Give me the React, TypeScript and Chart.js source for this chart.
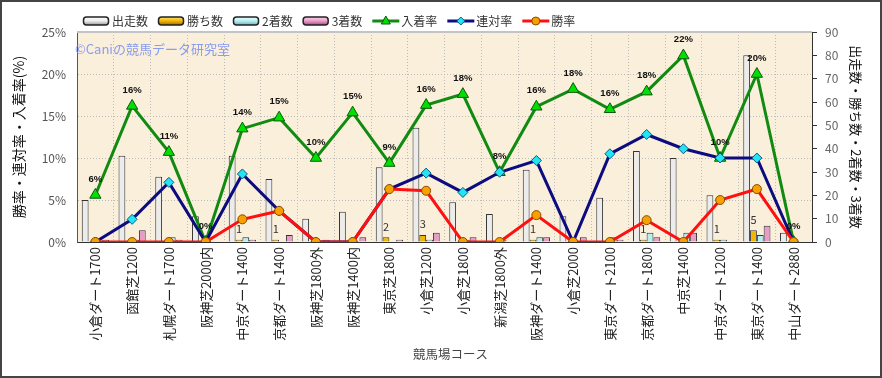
import React, { useEffect, useRef } from 'react';
import { Chart, registerables } from 'chart.js';

Chart.register(...registerables);

const FONT = '"Noto Sans CJK JP", "Noto Sans", sans-serif';

const categories = [
  '小倉ダート1700', '函館芝1200', '札幌ダート1700', '阪神芝2000内', '中京ダート1400',
  '京都ダート1400', '阪神芝1800外', '阪神芝1400内', '東京芝1800', '小倉芝1200',
  '小倉芝1800', '新潟芝1800外', '阪神ダート1400', '小倉芝2000', '東京ダート2100',
  '京都ダート1800', '中京芝1400', '中京ダート1200', '東京ダート1400', '中山ダート2880',
];

// counts (right axis)
const starts = [18, 37, 28, 11, 37, 27, 10, 13, 32, 49, 17, 12, 31, 11, 19, 39, 36, 20, 80, 4];
const wins = [0, 0, 0, 0, 1, 1, 0, 0, 2, 3, 0, 0, 1, 0, 0, 1, 0, 1, 5, 0];
const seconds = [0, 1, 2, 0, 2, 0, 0, 0, 0, 1, 1, 1, 2, 0, 2, 4, 4, 1, 3, 0];
const thirds = [1, 5, 1, 0, 1, 3, 1, 2, 1, 4, 2, 0, 2, 2, 1, 2, 4, 0, 7, 0];

// rates (left axis, %)
const placeRate = [5.6, 16.2, 10.7, 0, 13.5, 14.8, 10, 15.4, 9.4, 16.3, 17.6, 8.3, 16.1, 18.2, 15.8, 17.9, 22.2, 10, 20, 0];
const quinellaRate = [0, 2.7, 7.1, 0, 8.1, 3.7, 0, 0, 6.3, 8.2, 5.9, 8.3, 9.7, 0, 10.5, 12.8, 11.1, 10, 10, 0];
const winRate = [0, 0, 0, 0, 2.7, 3.7, 0, 0, 6.3, 6.1, 0, 0, 3.2, 0, 0, 2.6, 0, 5, 6.3, 0];

const leftTitle = '勝率・連対率・入着率(%)';
const rightTitle = '出走数・勝ち数・2着数・3着数';
const xTitle = '競馬場コース';
const watermark = '©Caniの競馬データ研究室';

const decorPlugin = {
  id: 'decor',
  beforeDraw(chart: any) {
    const { ctx, chartArea: a, width, height } = chart;
    ctx.save();
    ctx.fillStyle = '#ffffff';
    ctx.fillRect(0, 0, width, height);
    ctx.fillStyle = '#f9efda';
    ctx.fillRect(a.left, a.top, a.right - a.left, a.bottom - a.top);
    ctx.restore();
  },
  beforeDatasetsDraw(chart: any) {
    const { ctx, chartArea: a } = chart;
    ctx.save();
    ctx.font = `13px ${FONT}`;
    ctx.fillStyle = '#8a9cf0';
    ctx.textAlign = 'left';
    ctx.textBaseline = 'middle';
    ctx.fillText(watermark, a.left - 2, a.top + 17);
    ctx.strokeStyle = '#c4c4c4';
    ctx.lineWidth = 2;
    ctx.beginPath();
    ctx.moveTo(a.left, a.top);
    ctx.lineTo(a.right, a.top);
    ctx.stroke();
    ctx.restore();
  },
  afterDraw(chart: any) {
    const { ctx, width, height, chartArea: a } = chart;
    ctx.save();
    const placeMeta = chart.getDatasetMeta(4);
    ctx.font = `bold 9.5px "Liberation Sans", Arial, sans-serif`;
    ctx.fillStyle = '#111';
    ctx.textAlign = 'center';
    ctx.textBaseline = 'middle';
    placeMeta.data.forEach((pt: any, i: number) => {
      ctx.fillText(Math.round(placeRate[i]) + '%', pt.x, pt.y - 16);
    });
    const winMeta = chart.getDatasetMeta(1);
    ctx.font = `11px ${FONT}`;
    ctx.fillStyle = '#333';
    winMeta.data.forEach((bar: any, i: number) => {
      if (wins[i] > 0) ctx.fillText(String(wins[i]), bar.x, bar.y - 11);
    });
    ctx.font = `12.5px ${FONT}`;
    ctx.fillStyle = '#444';
    ctx.fillText(xTitle, (a.left + a.right) / 2 + 6, 354);

    let x = 83;
    const ly = 21;
    ctx.font = `12px ${FONT}`;
    ctx.textAlign = 'left';
    ctx.textBaseline = 'middle';
    chart.data.datasets.forEach((ds: any) => {
      if (ds.type === 'bar') {
        const g = ctx.createLinearGradient(0, ly - 4, 0, ly + 4);
        g.addColorStop(0, ds.legendLight);
        g.addColorStop(0.5, ds.backgroundColor);
        g.addColorStop(1, ds.legendDark);
        ctx.fillStyle = g;
        ctx.strokeStyle = '#222';
        ctx.lineWidth = 1.5;
        ctx.beginPath();
        (ctx as any).roundRect(x + 0.5, ly - 4, 25, 8, 3);
        ctx.fill();
        ctx.stroke();
        x += 29;
      } else {
        ctx.strokeStyle = ds.borderColor;
        ctx.lineWidth = 3;
        ctx.beginPath();
        ctx.moveTo(x, ly);
        ctx.lineTo(x + 27, ly);
        ctx.stroke();
        ctx.fillStyle = ds.pointBackgroundColor;
        ctx.strokeStyle = ds.pointBorderColor;
        ctx.lineWidth = 1;
        ctx.beginPath();
        const cx = x + 13.5;
        if (ds.pointStyle === 'triangle') {
          ctx.moveTo(cx, ly - 5);
          ctx.lineTo(cx + 4.5, ly + 3);
          ctx.lineTo(cx - 4.5, ly + 3);
          ctx.closePath();
        } else if (ds.pointStyle === 'rectRot') {
          ctx.moveTo(cx, ly - 4);
          ctx.lineTo(cx + 4, ly);
          ctx.lineTo(cx, ly + 4);
          ctx.lineTo(cx - 4, ly);
          ctx.closePath();
        } else {
          ctx.arc(cx, ly, 4, 0, Math.PI * 2);
        }
        ctx.fill();
        ctx.stroke();
        x += 29;
      }
      ctx.fillStyle = '#333';
      ctx.fillText(ds.label, x, ly + 0.5);
      x += ctx.measureText(ds.label).width + 10;
    });

    ctx.strokeStyle = '#444';
    ctx.lineWidth = 2;
    ctx.strokeRect(1, 1, width - 2, height - 2);
    ctx.restore();
  },
};

export default function App() {
  const ref = useRef<HTMLCanvasElement | null>(null);

  useEffect(() => {
    if (!ref.current) return;
    const barBase = {
      type: 'bar',
      yAxisID: 'y1',
      borderColor: '#333',
      borderWidth: 1,
      categoryPercentage: 0.74,
      barPercentage: 1,
      order: 3,
    };
    const chart = new Chart(ref.current, {
      type: 'bar',
      data: {
        labels: categories,
        datasets: [
          { ...barBase, label: '出走数', data: starts, backgroundColor: '#ececec', legendLight: '#ffffff', legendDark: '#999999' },
          { ...barBase, label: '勝ち数', data: wins, backgroundColor: '#f2b600', legendLight: '#ffe070', legendDark: '#a07000' },
          { ...barBase, label: '2着数', data: seconds, backgroundColor: '#b6eef2', legendLight: '#e8ffff', legendDark: '#70b0b8' },
          { ...barBase, label: '3着数', data: thirds, backgroundColor: '#ea9cc8', legendLight: '#ffd0ec', legendDark: '#a05080' },
          {
            type: 'line', label: '入着率', data: placeRate, yAxisID: 'y',
            borderColor: '#118a11', borderWidth: 3, tension: 0,
            pointStyle: 'triangle', pointRadius: 6.5, pointBackgroundColor: '#00e000',
            pointBorderColor: '#0a5a0a', pointBorderWidth: 1, order: 2,
          },
          {
            type: 'line', label: '連対率', data: quinellaRate, yAxisID: 'y',
            borderColor: '#0c0c80', borderWidth: 3, tension: 0,
            pointStyle: 'rectRot', pointRadius: 5, pointBackgroundColor: '#22e4f4',
            pointBorderColor: '#0c5a80', pointBorderWidth: 1, order: 1,
          },
          {
            type: 'line', label: '勝率', data: winRate, yAxisID: 'y',
            borderColor: '#ff1010', borderWidth: 3, tension: 0,
            pointStyle: 'circle', pointRadius: 4.5, pointBackgroundColor: '#f7a000',
            pointBorderColor: '#8a4a00', pointBorderWidth: 1, order: 0,
          },
        ] as any,
      },
      options: {
        responsive: false,
        maintainAspectRatio: false,
        animation: false,
        layout: { padding: { top: 32, left: 0, right: 0, bottom: 0 } },
        plugins: { legend: { display: false }, tooltip: { enabled: false } },
        scales: {
          x: {
            offset: true,
            grid: { color: '#bcbcbc', offset: true, drawTicks: false },
            border: { color: '#333', width: 1, dash: [1, 2] },
            ticks: {
              color: '#222', font: { family: FONT, size: 13 },
              minRotation: 90, maxRotation: 90, padding: 5, autoSkip: false,
            },
            afterFit: (s: any) => { s.height = 136; },
          },
          y: {
            position: 'left', min: 0, max: 25,
            ticks: {
              stepSize: 5, callback: (v: any) => v + '%',
              color: '#555', font: { family: FONT, size: 12 }, padding: 11,
            },
            grid: { color: '#bcbcbc', drawTicks: false },
            border: { color: '#555', width: 1, dash: [1, 2] },
            title: {
              display: true, text: leftTitle, color: '#111',
              font: { family: FONT, size: 14 }, padding: { top: 10, bottom: 0 },
            },
            afterFit: (s: any) => { s.width = 77; },
          },
          y1: {
            position: 'right', min: 0, max: 90,
            ticks: { stepSize: 10, color: '#666', font: { family: FONT, size: 12 }, padding: 8 },
            grid: { drawOnChartArea: false, drawTicks: true, tickLength: 5, color: '#333' },
            border: { color: '#333', width: 1 },
            title: {
              display: true, text: rightTitle, color: '#111',
              font: { family: FONT, size: 13 }, padding: { top: 18, bottom: 0 },
            },
            afterFit: (s: any) => { s.width = 70; },
          },
        },
      } as any,
      plugins: [decorPlugin],
    });
    return () => chart.destroy();
  }, []);

  return (
    <div style={{ position: 'fixed', left: 0, top: 0, width: 882, height: 378 }}>
      <canvas ref={ref} width={882} height={378} style={{ width: 882, height: 378, display: 'block' }} />
    </div>
  );
}
